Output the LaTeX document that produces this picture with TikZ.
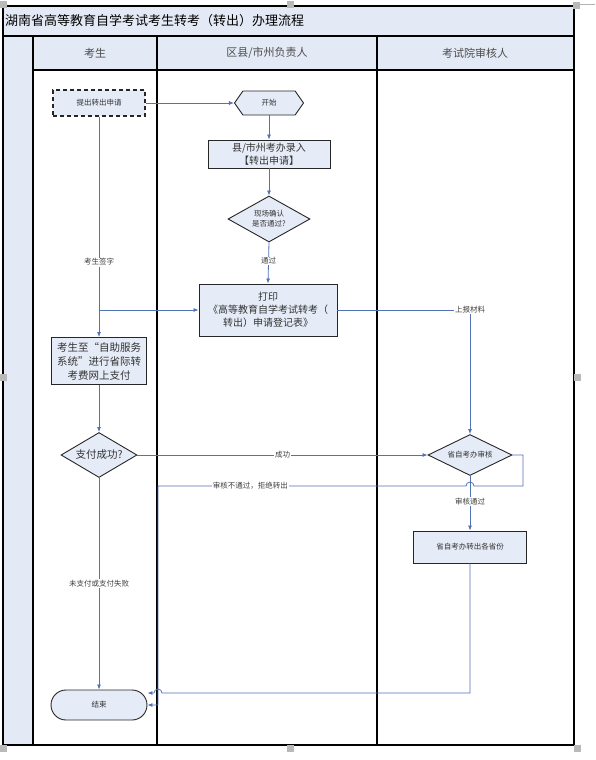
\documentclass[tikz,border=0pt]{standalone}
\usepackage{fontspec}
\setmainfont{Noto Sans CJK SC}
\usetikzlibrary{shapes.geometric,shapes.symbols,arrows.meta,calc}

\definecolor{laneblue}{HTML}{E4EAF5}
\definecolor{boxblue}{HTML}{E6ECF7}
\definecolor{flowblue}{HTML}{5272B6}

\newcommand{\smallcjk}{\fontsize{7.5}{10}\selectfont}
\newcommand{\midcjk}{\fontsize{10}{13}\selectfont}
\newcommand{\bigcjk}{\fontsize{10.5}{14}\selectfont}

\tikzset{
  procbox/.style={rectangle,draw=black!85,fill=boxblue,line width=0.9pt,
                  align=center,inner sep=1pt,text=black!80},
  decision/.style={diamond,draw=black!85,fill=boxblue,line width=0.9pt,
                   aspect=1.8,inner sep=0pt,align=center,text=black!80},
  flow/.style={draw=flowblue,line width=0.8pt,-{Latex[length=5pt,width=4pt]}},
  tag/.style={fill=white,inner sep=1pt,font=\smallcjk,text=black!75},
  lane/.style={draw=black,line width=1.1pt}
}

\begin{document}
\begin{tikzpicture}[x=1pt,y=-1pt]
  \useasboundingbox (0,0) rectangle (595,760);

  % Lanes
  \fill[laneblue] (3,6) rectangle (574,36);
  \fill[laneblue] (3,36) rectangle (33,745);
  \fill[laneblue] (33,36) rectangle (574,70);
  \draw[lane] (3,6) rectangle (574,745);
  \draw[lane] (3,36) -- (574,36);
  \draw[lane] (33,70) -- (574,70);
  \draw[lane] (33,36) -- (33,745);
  \draw[lane] (157,36) -- (157,745);
  \draw[lane] (377,36) -- (377,745);

  \node[anchor=west,inner sep=0pt,font=\fontsize{13}{15}\selectfont] (title) at (5,21)
    {湖南省高等教育自学考试考生转考（转出）办理流程};
  \node[font=\fontsize{11}{13}\selectfont,text=black!70] (hstudent) at (95,53) {考生};
  \node[font=\fontsize{11}{13}\selectfont,text=black!70] (hcounty) at (267,53) {区县/市州负责人};
  \node[font=\fontsize{11}{13}\selectfont,text=black!70] (hexam) at (475,53) {考试院审核人};

  % Handles
  \foreach \hx/\hy in {3/5,290/5,576/6,3/377,577/377,3/748,290/748,577/748}
    \fill[gray!55] (\hx-3.5,\hy-3.5) rectangle +(7,7);
  \draw[gray!60,line width=0.8pt] (580,4) -- (595,4);

  % Nodes
  \node[procbox,dashed,dash pattern=on 4pt off 3pt,line width=1.1pt,
        minimum width=92pt,minimum height=26pt,font=\smallcjk] (apply) at (99,103) {提出转出申请};
  \node[signal,signal to=west and east,signal pointer angle=110,draw=black!85,
        fill=boxblue,line width=0.9pt,minimum width=69pt,minimum height=24pt,
        inner sep=0pt,font=\smallcjk,text=black!80] (start) at (269,103) {开始};
  \node[procbox,minimum width=122pt,minimum height=28pt,font=\midcjk] (entry) at (269,154)
    {县/市州考办录入\\【转出申请】};
  \node[decision,minimum width=82pt,minimum height=46pt,font=\smallcjk] (check) at (269,219)
    {现场确认\\是否通过?};
  \node[procbox,minimum width=138pt,minimum height=52pt,font=\midcjk] (print) at (268,310)
    {打印\\《高等教育自学考试转考（\\转出）申请登记表》};
  \node[procbox,minimum width=95pt,minimum height=47pt,font=\bigcjk] (pay) at (99,361)
    {考生至“自助服务\\系统”进行省际转\\考费网上支付};
  \node[decision,minimum width=76pt,minimum height=45pt,font=\bigcjk] (paid) at (99,455) {支付成功?};
  \node[decision,minimum width=84pt,minimum height=41pt,font=\smallcjk] (audit) at (470,455) {省自考办审核};
  \node[procbox,minimum width=113pt,minimum height=32pt,font=\smallcjk] (out) at (470,547) {省自考办转出各省份};
  \node[rectangle,rounded corners=15pt,draw=black!85,fill=boxblue,line width=0.9pt,
        minimum width=96pt,minimum height=30pt,font=\smallcjk,text=black!80] (end) at (99,705) {结束};

  \coordinate (sign) at (apply.south |- print.west);
  \coordinate (failrow) at (523,486);
  \coordinate (failturn) at (158,486);
  \coordinate (okrow) at (470,693);

  % Connectors
  \draw[flow] (apply.east) -- (start.west);
  \draw[flow] (start.south) -- (entry.north);
  \draw[flow] (entry.south) -- (check.north);
  \draw[flow] (check.south) -- node[tag,pos=0.45]{通过} (print.north);
  \draw[flow] (apply.south) -- node[tag,pos=0.66]{考生签字} (pay.north);
  \draw[flow] (sign) -- (print.west);
  \draw[flow] (print.east) -| node[tag,pos=0.5]{上报材料} (audit.north);
  \draw[flow] (pay.south) -- (paid.north);
  \draw[flow] (paid.east) -- node[tag,pos=0.5]{成功} (audit.west);
  \draw[flow] (paid.south) -- node[tag]{未支付或支付失败} (end.north);
  \draw[flow] (audit.south) -- node[tag,pos=0.47]{审核通过} (out.north);
  \draw[flow] (audit.east) -| (failrow)
    -- ($(audit.south |- failrow)+(4,0)$) arc[start angle=0,end angle=-180,radius=4]
    -- node[tag,pos=0.7]{审核不通过，拒绝转出} (failturn) |- (end.east);
  \draw[flow] (out.south) -- (okrow)
    -- ($(failturn |- okrow)+(4,0)$) arc[start angle=0,end angle=-180,radius=4]
    -- ([yshift=12pt]end.east);
\end{tikzpicture}
\end{document}
